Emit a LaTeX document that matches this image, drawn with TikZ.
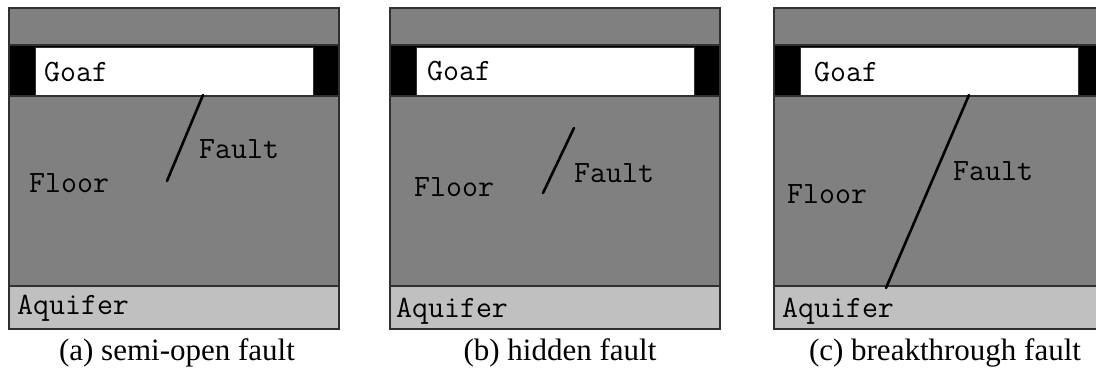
\documentclass[tikz,border=0pt]{standalone}
\usepackage{fontspec}
\setmainfont{Liberation Serif}
\definecolor{rockgray}{HTML}{808080}
\definecolor{watergray}{HTML}{C0C0C0}
\definecolor{edgegray}{HTML}{303030}
\newcommand{\strata}{%
  % roof, coal seam with goaf, floor and aquifer of one section
  \fill[rockgray] (0,8) rectangle (330,45);
  \fill[black] (0,45) rectangle (330,96);
  \fill[white] (26,47) rectangle (304,95);
  \draw[edgegray, line width=0.6] (26,47) rectangle (304,95);
  \fill[rockgray] (0,96) rectangle (330,286);
  \fill[watergray] (0,286) rectangle (330,329);
  \draw[edgegray, line width=1.2] (0,45) -- (330,45) (0,96) -- (330,96) (0,286) -- (330,286);
  \draw[edgegray, line width=1.4] (0,8) rectangle (330,329);
}
\tikzset{
  lbl/.style={inner sep=0pt, anchor=base west, font=\ttfamily\fontsize{31}{31}\selectfont},
  caption/.style={inner sep=0pt, anchor=base, font=\fontsize{31}{31}\selectfont},
  faultline/.style={black, line width=2.6, line cap=round},
}
\begin{document}
\begin{tikzpicture}[x=1pt, y=-1pt]
  \clip (0,0) rectangle (1096,374);
  \fill[white] (0,0) rectangle (1096,374);

  % (a) semi-open fault
  \begin{scope}[shift={(9,0)}]
    \strata
  \end{scope}
  \coordinate (a1) at (203,95);
  \coordinate (a2) at (167,181);
  \draw[faultline] (a1) -- (a2);
  \node[lbl] (goafA) at (44,82) {Goaf};
  \node[lbl] (faultA) at (199,159) {Fault};
  \node[lbl] (floorA) at (29,193) {Floor};
  \node[lbl] (aquiA) at (17,315) {Aquifer};
  \node[caption] (capA) at (177,360) {(a) semi-open fault};

  % (b) hidden fault
  \begin{scope}[shift={(390,0)}]
    \strata
  \end{scope}
  \coordinate (b1) at (574,128);
  \coordinate (b2) at (543,193);
  \draw[faultline] (b1) -- (b2);
  \node[lbl] (goafB) at (427,81) {Goaf};
  \node[lbl] (faultB) at (574,183) {Fault};
  \node[lbl] (floorB) at (414,197) {Floor};
  \node[lbl] (aquiB) at (396,318) {Aquifer};
  \node[caption] (capB) at (560,360) {(b) hidden fault};

  % (c) breakthrough fault
  \begin{scope}[shift={(774,0)}]
    \strata
  \end{scope}
  \coordinate (c1) at (969,95);
  \coordinate (c2) at (886,288);
  \draw[faultline] (c1) -- (c2);
  \node[lbl] (goafC) at (814,82) {Goaf};
  \node[lbl] (faultC) at (953,181) {Fault};
  \node[lbl] (floorC) at (787,204) {Floor};
  \node[lbl] (aquiC) at (782,318) {Aquifer};
  \node[caption] (capC) at (945,360) {(c) breakthrough fault};
\end{tikzpicture}
\end{document}
